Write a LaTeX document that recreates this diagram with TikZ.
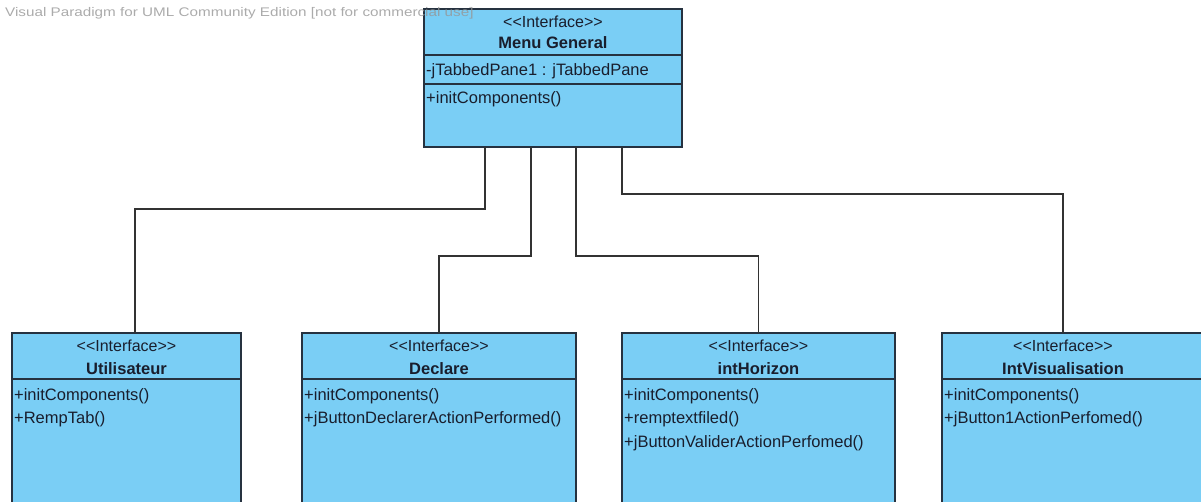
\documentclass[tikz,border=0pt]{standalone}
\usepackage{fontspec}
\setmainfont{Liberation Sans}
\newfontfamily\filigfont[FakeStretch=1.22]{Liberation Sans}
\usetikzlibrary{positioning}
\definecolor{bleuclasse}{RGB}{122,206,245}
\definecolor{bordclasse}{RGB}{38,50,64}
\definecolor{textclasse}{RGB}{25,30,45}
\definecolor{lienclasse}{RGB}{50,50,50}
\definecolor{filigrane}{RGB}{150,150,150}
\tikzset{
  classe/.style = {draw=bordclasse, fill=bleuclasse, line width=1.5pt, inner sep=0pt,
                   outer sep=0pt, minimum height=180pt},
  stereo/.style = {font=\fontsize{16}{18}\selectfont, text=textclasse, inner sep=0pt},
  nom/.style    = {stereo, font=\fontsize{16.5}{19}\selectfont\bfseries},
  membre/.style = {font=\fontsize{16.5}{19}\selectfont, text=textclasse, inner sep=0pt,
                   anchor=west, text height=12pt, text depth=3.5pt},
  separ/.style  = {draw=bordclasse, line width=1.5pt},
  lien/.style   = {draw=lienclasse, line width=1.3pt},
  filig/.style  = {font=\filigfont\fontsize{12.5}{15}\selectfont, text=filigrane,
                   text opacity=0.8, inner sep=0pt, anchor=west}
}
\begin{document}
\begin{tikzpicture}[x=1pt, y=-1pt]
    \useasboundingbox (0,0) rectangle (1201,502);
    % boxes
    \node[classe, minimum width=258pt, minimum height=138pt, anchor=north west] (menu) at (424,9) {};
    \node[classe, minimum width=229pt, anchor=north west] (util) at (12,333) {};
    \node[classe, minimum width=274pt, right=61pt of util] (decl) {};
    \node[classe, minimum width=273pt, right=46pt of decl] (horiz) {};
    \node[classe, minimum width=274pt, right=47pt of horiz] (visu) {};

    % Menu General
    \draw[separ] ([yshift=-46pt]menu.north west) -- ([yshift=-46pt]menu.north east);
    \draw[separ] ([yshift=-75pt]menu.north west) -- ([yshift=-75pt]menu.north east);
    \node[stereo] (menuS) at ([yshift=-13pt]menu.north) {<{}<Interface>{}>};
    \node[nom] (menuN) at ([yshift=-34pt]menu.north) {Menu General};
    \node[membre] (menuA) at ([xshift=2pt, yshift=-62pt]menu.north west) {-jTabbedPane1 : jTabbedPane};
    \node[membre] (menuO) at ([xshift=2pt, yshift=-90pt]menu.north west) {+initComponents()};

    % Utilisateur
    \draw[separ] ([yshift=-46pt]util.north west) -- ([yshift=-46pt]util.north east);
    \node[stereo] (utilS) at ([yshift=-13pt]util.north) {<{}<Interface>{}>};
    \node[nom] (utilN) at ([yshift=-36pt]util.north) {Utilisateur};
    \node[membre] (utilO1) at ([xshift=2pt, yshift=-63pt]util.north west) {+initComponents()};
    \node[membre] (utilO2) at ([xshift=2pt, yshift=-86pt]util.north west) {+RempTab()};

    % Declare
    \draw[separ] ([yshift=-46pt]decl.north west) -- ([yshift=-46pt]decl.north east);
    \node[stereo] (declS) at ([yshift=-13pt]decl.north) {<{}<Interface>{}>};
    \node[nom] (declN) at ([yshift=-36pt]decl.north) {Declare};
    \node[membre] (declO1) at ([xshift=2pt, yshift=-63pt]decl.north west) {+initComponents()};
    \node[membre] (declO2) at ([xshift=2pt, yshift=-86pt]decl.north west) {+jButtonDeclarerActionPerformed()};

    % intHorizon
    \draw[separ] ([yshift=-46pt]horiz.north west) -- ([yshift=-46pt]horiz.north east);
    \node[stereo] (horizS) at ([yshift=-13pt]horiz.north) {<{}<Interface>{}>};
    \node[nom] (horizN) at ([yshift=-36pt]horiz.north) {intHorizon};
    \node[membre] (horizO1) at ([xshift=2pt, yshift=-63pt]horiz.north west) {+initComponents()};
    \node[membre] (horizO2) at ([xshift=2pt, yshift=-86pt]horiz.north west) {+remptextfiled()};
    \node[membre] (horizO3) at ([xshift=2pt, yshift=-110pt]horiz.north west) {+jButtonValiderActionPerfomed()};

    % IntVisualisation
    \draw[separ] ([yshift=-46pt]visu.north west) -- ([yshift=-46pt]visu.north east);
    \node[stereo] (visuS) at ([xshift=-16pt, yshift=-13pt]visu.north) {<{}<Interface>{}>};
    \node[nom] (visuN) at ([xshift=-16pt, yshift=-36pt]visu.north) {IntVisualisation};
    \node[membre] (visuO1) at ([xshift=2pt, yshift=-63pt]visu.north west) {+initComponents()};
    \node[membre] (visuO2) at ([xshift=2pt, yshift=-86pt]visu.north west) {+jButton1ActionPerfomed()};

    % links
    \draw[lien] ([xshift=-68pt]menu.south) -- ++(0,62) -| ([xshift=8.5pt]util.north);
    \draw[lien] ([xshift=-22pt]menu.south) -- ++(0,109) -| (decl.north);
    \draw[lien] ([xshift=23pt]menu.south) -- ++(0,109) -| (horiz.north);
    \draw[lien] ([xshift=69pt]menu.south) -- ++(0,47) -| ([xshift=-16pt]visu.north);

    \node[filig] (filigrane) at (5,13) {Visual Paradigm for UML Community Edition [not for commercial use]};
\end{tikzpicture}
\end{document}
